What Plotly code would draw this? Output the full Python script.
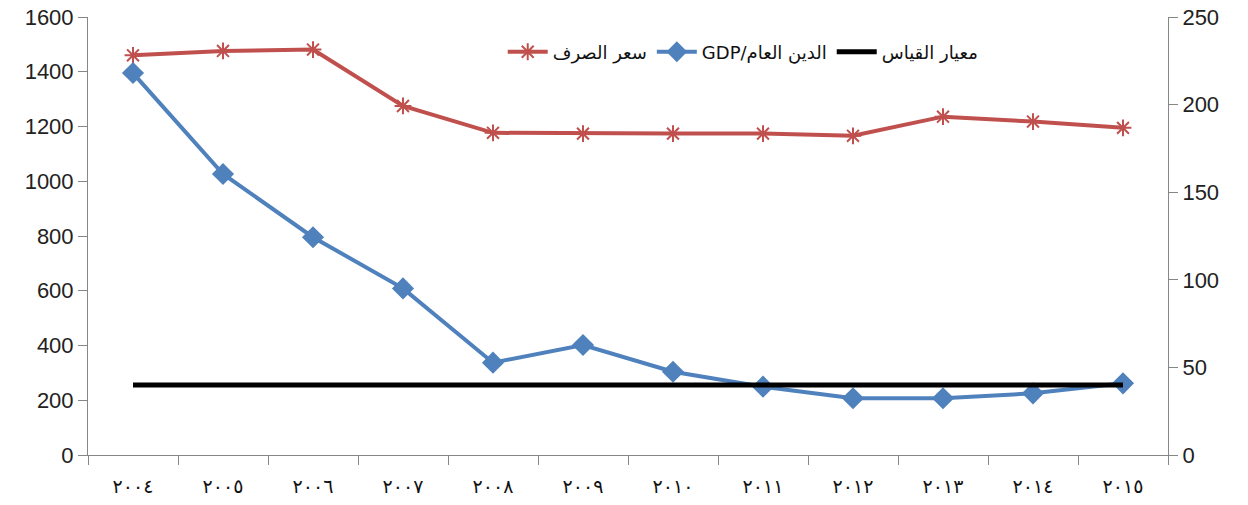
import plotly.graph_objects as go

years = ["٢٠٠٤", "٢٠٠٥", "٢٠٠٦", "٢٠٠٧", "٢٠٠٨", "٢٠٠٩", "٢٠١٠", "٢٠١١", "٢٠١٢", "٢٠١٣", "٢٠١٤", "٢٠١٥"]
exchange_rate = [1460, 1476, 1481, 1275, 1177, 1174, 1174, 1174, 1166, 1236, 1218, 1195]
debt_gdp = [218, 160.4, 124.3, 95.1, 52.7, 62.8, 47.5, 39, 32.4, 32.4, 35.2, 40.9]
benchmark = [40] * 12

name_rate = "سعر الصرف"
name_debt = "GDP/الدين العام"
name_bench = "معيار القياس"

RED = "#C0504D"
BLUE = "#4F81BD"
GRAY = "#868686"

fig = go.Figure()
fig.add_trace(go.Scatter(
    x=years, y=exchange_rate, name=name_rate, mode="lines+markers",
    line=dict(color=RED, width=4),
    marker=dict(symbol="asterisk-open", size=14, line=dict(color=RED, width=2), color=RED),
    yaxis="y"))
fig.add_trace(go.Scatter(
    x=years, y=debt_gdp, name=name_debt, mode="lines+markers",
    line=dict(color=BLUE, width=4),
    marker=dict(symbol="diamond", size=17, color=BLUE),
    yaxis="y2"))
fig.add_trace(go.Scatter(
    x=years, y=benchmark, name=name_bench, mode="lines",
    line=dict(color="black", width=5),
    yaxis="y2"))

tickfont = dict(family="Liberation Sans, Arial, sans-serif", size=22, color="#222222")

fig.update_layout(
    width=1248, height=505,
    margin=dict(l=88, r=80, t=17, b=50),
    paper_bgcolor="white", plot_bgcolor="white",
    showlegend=True,
    legend=dict(orientation="h", x=0.384, y=0.92, xanchor="left", yanchor="middle",
                font=dict(family="DejaVu Sans, Liberation Sans, sans-serif", size=18, color="#111111"),
                bgcolor="rgba(0,0,0,0)", itemwidth=40, tracegroupgap=0),
    xaxis=dict(type="category", range=[-0.5, 11.5], showgrid=False, showline=True,
               linecolor=GRAY, linewidth=1, automargin=False,
               ticks="outside", ticklen=9, tickcolor=GRAY, tickson="boundaries",
               tickfont=dict(family="DejaVu Sans, sans-serif", size=19, color="#111111"),
               ticklabelstandoff=14, zeroline=False),
    yaxis=dict(range=[0, 1600], dtick=200, showgrid=False, showline=True, linecolor=GRAY,
               linewidth=1, ticks="outside", ticklen=9, tickcolor=GRAY, tickfont=tickfont,
               zeroline=False, automargin=False, ticklabeloverflow="allow"),
    yaxis2=dict(range=[0, 250], dtick=50, overlaying="y", side="right", showgrid=False,
                showline=True, linecolor=GRAY, linewidth=1, ticks="outside", ticklen=9,
                tickcolor=GRAY, tickfont=tickfont, zeroline=False, automargin=False,
                ticklabeloverflow="allow"),
)

fig.write_html("out.html", config={"displayModeBar": False},
               post_script="document.body.style.margin='0';")
